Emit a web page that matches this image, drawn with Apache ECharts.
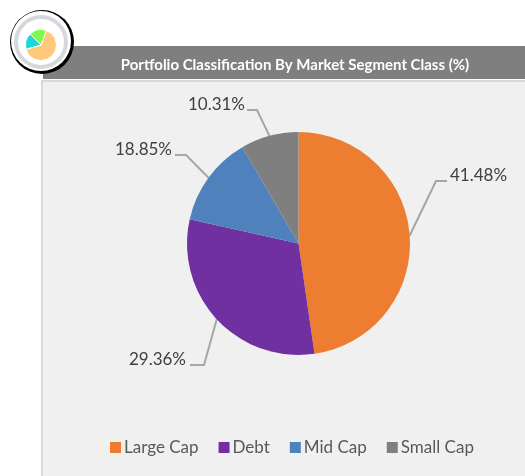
<!DOCTYPE html>
<html>
<head>
<meta charset="utf-8">
<style>
  html, body { margin: 0; padding: 0; background: #fff; }
  #chart { width: 525px; height: 476px; }
</style>
<script src="https://cdn.jsdelivr.net/npm/echarts@6/dist/echarts.min.js"></script>
</head>
<body>
<div id="chart"></div>
<script>
const categories = ['Large Cap', 'Debt', 'Mid Cap', 'Small Cap'];
// slice sizes as drawn, the printed labels do not match them
const sliceValues = [47.7, 30.8, 13.1, 8.4];
const sliceLabels = ['41.48%', '29.36%', '18.85%', '10.31%'];
const colors = ['#ed7d31', '#7030a0', '#4f81bd', '#7f7f7f'];

const iconValues = [65, 17, 18];
const iconColors = ['#ffc87a', '#19d9dc', '#7cfc4a'];

// label anchor and elbow for each leader line
const labelAnchors = [[450, 176], [186, 360], [172, 150], [245, 105]];
const lineElbows = [[436, 181], [204, 365], [186, 155], [257, 110]];
const lineEnds = [[447, 181], [190, 365], [175, 155], [247, 110]];

const chart = echarts.init(document.getElementById('chart'));

chart.setOption({
  animation: false,
  backgroundColor: '#ffffff',
  title: {
    text: 'Portfolio Classification By Market Segment Class (%)',
    left: 290,
    top: 53,
    textAlign: 'center',
    textStyle: { color: '#ffffff', fontFamily: 'Lato', fontWeight: 'bold', fontSize: 15 },
  },
  legend: {
    data: categories,
    left: 105,
    top: 434,
    icon: 'rect',
    itemWidth: 11,
    itemHeight: 11,
    itemGap: 20,
    textStyle: { color: '#595959', fontFamily: 'Lato', fontSize: 17, padding: [0, 0, 0, -2] },
  },
  graphic: [
    // header band and panel
    { type: 'rect', z: 0, shape: { x: 43, y: 46, width: 482, height: 33 }, style: { fill: '#7f7f7f' } },
    { type: 'rect', z: 0, shape: { x: 42, y: 81, width: 490, height: 400 }, style: { fill: '#f0f0f0', stroke: '#d9d9d9', lineWidth: 2 } },
    // icon badge
    { type: 'circle', z: 1, shape: { cx: 42, cy: 42, r: 32 }, style: { fill: '#000000' } },
    { type: 'circle', z: 1, shape: { cx: 41, cy: 41, r: 30 }, style: { fill: '#ffffff' } },
    { type: 'circle', z: 1, shape: { cx: 41, cy: 42, r: 25 }, style: { fill: '#ffffff', stroke: '#d5d8dc', lineWidth: 4 } },
  ],
  series: [
    {
      type: 'pie',
      z: 3,
      center: [298.5, 243.5],
      radius: 111.5,
      startAngle: 90,
      clockwise: true,
      data: categories.map((name, i) => ({
        name,
        value: sliceValues[i],
        itemStyle: { color: colors[i] },
      })),
      label: {
        show: true,
        formatter: (p) => sliceLabels[p.dataIndex],
        color: '#404040',
        fontFamily: 'Lato',
        fontSize: 17,
        overflow: 'none',
        width: 80,
      },
      labelLine: { show: true, lineStyle: { color: '#a6a6a6', width: 2 } },
      labelLayout: (params) => {
        const i = params.dataIndex;
        return {
          x: labelAnchors[i][0],
          y: labelAnchors[i][1],
          align: i === 0 ? 'left' : 'right',
          verticalAlign: 'middle',
          labelLinePoints: [params.labelLinePoints[0], lineElbows[i], lineEnds[i]],
        };
      },
      emphasis: { disabled: true },
    },
    {
      type: 'pie',
      z: 5,
      silent: true,
      center: [41, 45],
      radius: 15.5,
      startAngle: 70,
      clockwise: true,
      legendHoverLink: false,
      data: iconValues.map((value, i) => ({
        name: 'icon' + i,
        value,
        itemStyle: { color: iconColors[i], borderColor: '#ffffff', borderWidth: 1 },
      })),
      label: { show: false },
      labelLine: { show: false },
    },
  ],
});
</script>
</body>
</html>
